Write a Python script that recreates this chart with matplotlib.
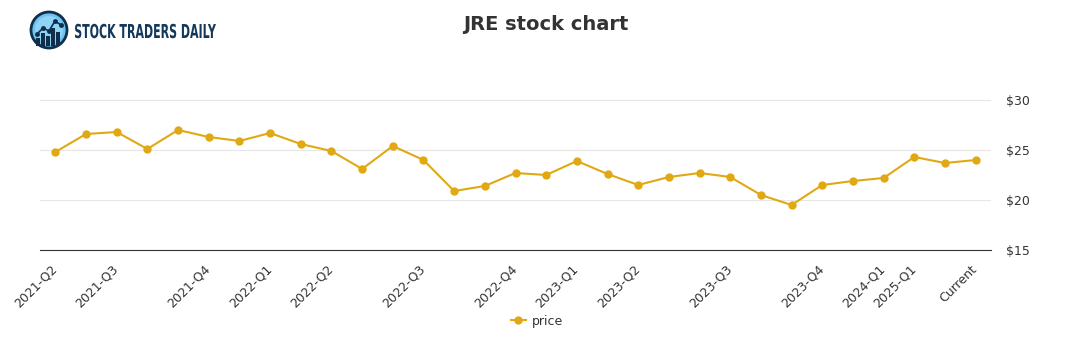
import matplotlib
matplotlib.use("Agg")
import matplotlib.pyplot as plt
from matplotlib.textpath import TextPath
from matplotlib.patches import PathPatch, Circle
from matplotlib.transforms import Affine2D, ScaledTranslation
from matplotlib.font_manager import FontProperties

# quarterly closing prices
labels = ["2021-Q2", "", "2021-Q3", "", "", "2021-Q4", "", "2022-Q1", "", "2022-Q2",
          "", "", "2022-Q3", "", "", "2022-Q4", "", "2023-Q1", "", "2023-Q2",
          "", "", "2023-Q3", "", "", "2023-Q4", "", "2024-Q1", "2025-Q1", "", "Current"]
prices = [24.8, 26.6, 26.8, 25.1, 27.0, 26.3, 25.9, 26.7, 25.6, 24.9,
          23.1, 25.4, 24.0, 20.9, 21.4, 22.7, 22.5, 23.9, 22.6, 21.5,
          22.3, 22.7, 22.3, 20.5, 19.5, 21.5, 21.9, 22.2, 24.3, 23.7, 24.0]
yticks = [15, 20, 25, 30]

line_color = "#e0a914"
text_color = "#333333"

fig = plt.figure(figsize=(10.91, 3.5), dpi=100)
ax = fig.add_axes([40 / 1091, 1 - 250 / 350, 951 / 1091, 160 / 350])

x = list(range(len(prices)))
ax.plot(x, prices, color=line_color, lw=1.5, marker="o", ms=5, label="price", zorder=3)

ax.set_xlim(-0.5, len(prices) - 0.5)
ax.set_ylim(15, 31)
ax.set_yticks(yticks)
ax.set_yticklabels(["$%d" % v for v in yticks])
ax.yaxis.tick_right()
ax.tick_params(axis="y", length=0, pad=11, labelsize=9, labelcolor=text_color)
ax.grid(axis="y", color="#e6e6e6", lw=0.8)
ax.set_axisbelow(True)

tick_pos = [i for i, l in enumerate(labels) if l]
ax.set_xticks(tick_pos)
ax.set_xticklabels([labels[i] for i in tick_pos], rotation=45, ha="right",
                   rotation_mode="anchor")
ax.tick_params(axis="x", length=0, pad=7, labelsize=9, labelcolor=text_color)
shift = ScaledTranslation(-5 / 100, -3 / 100, fig.dpi_scale_trans)
for lbl in ax.get_xticklabels():
    lbl.set_transform(lbl.get_transform() + shift)

for s in ["top", "left", "right"]:
    ax.spines[s].set_visible(False)
ax.spines["bottom"].set_color("#333333")

fig.text(0.5, 1 - 24 / 350, "JRE stock chart", ha="center", va="center",
         fontsize=14, fontweight="bold", color=text_color)

leg = fig.legend(loc="center", bbox_to_anchor=(537 / 1091, 1 - 321 / 350), frameon=False,
                 fontsize=9, handlelength=1.2, handletextpad=0.5)
for t in leg.get_texts():
    t.set_color(text_color)

# logo: round badge with small bar chart
logo = fig.add_axes([0, 0, 1, 1], zorder=5)
logo.set_xlim(0, 1091)
logo.set_ylim(350, 0)
logo.axis("off")
logo.add_patch(Circle((49, 30), 18, facecolor="#6ec3f0", edgecolor="#0f2f4a", lw=2))
logo.add_patch(Circle((49, 30), 14, facecolor="#8fd3f7", edgecolor="none"))
bars_x = [38, 43, 48, 53, 58]
bars_h = [8, 13, 10, 18, 14]
for bx, bh in zip(bars_x, bars_h):
    logo.bar(bx, bh, width=3.2, bottom=46 - bh, color="#0f2f4a")
logo.plot([37, 43, 49, 55, 61], [34, 28, 31, 21, 25], color="#0f2f4a", lw=1.2)
logo.plot([37, 43, 49, 55, 61], [34, 28, 31, 21, 25], "o", color="#0f2f4a", ms=2.5)

# condensed brand text
fp = FontProperties(family="DejaVu Sans", weight="bold")
tp = TextPath((0, 0), "STOCK TRADERS DAILY", size=10, prop=fp)
bb = tp.get_extents()
sx = 141 / bb.width
sy = 14 / 10 / 0.73
tr = Affine2D().translate(-bb.x0, 0).scale(sx, -sy).translate(75, 38)
logo.add_patch(PathPatch(tr.transform_path(tp), facecolor="#13385a", edgecolor="none"))

fig.savefig("out.png", dpi=100)
